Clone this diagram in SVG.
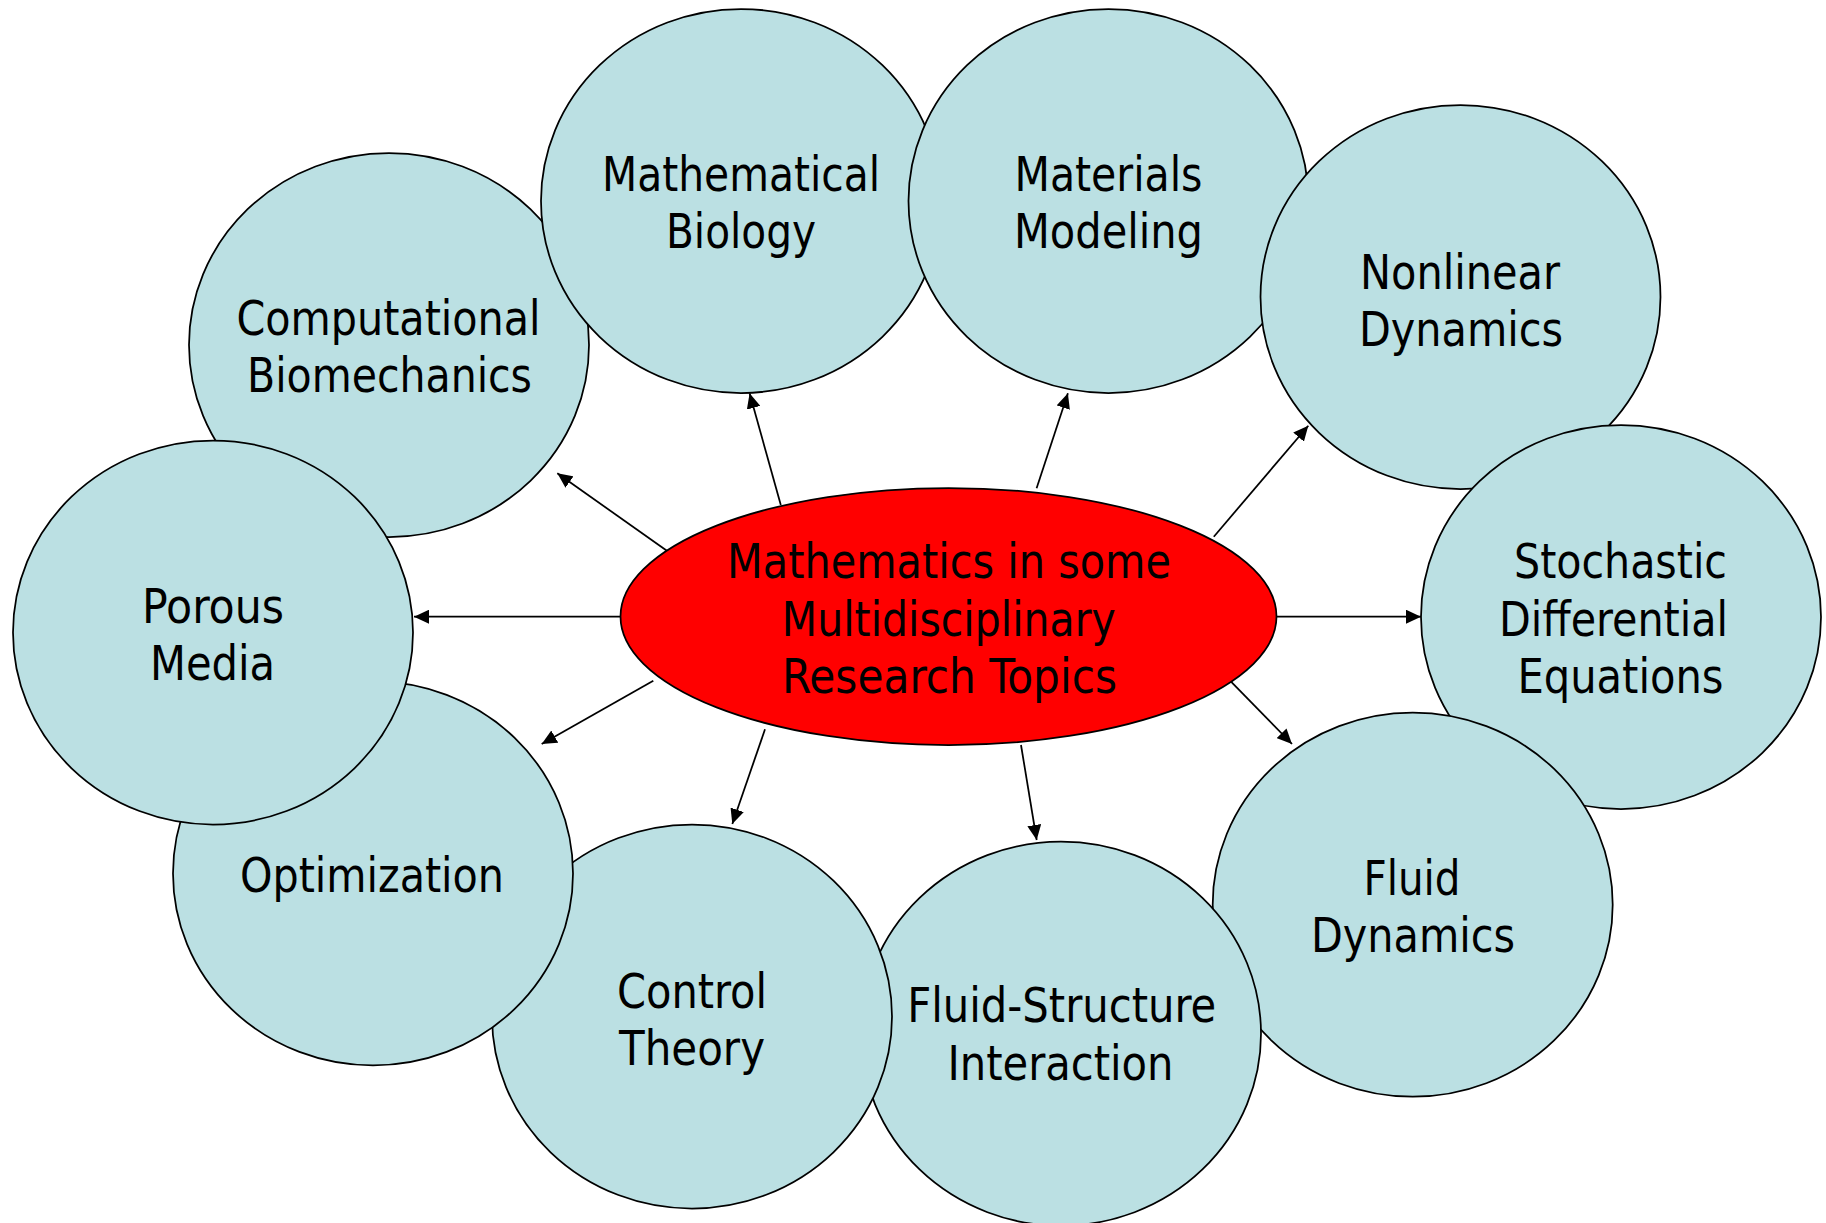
<svg xmlns="http://www.w3.org/2000/svg" width="1826" height="1223" viewBox="0 0 1826 1223">
  <style>
    .topic ellipse { fill: #BBE0E3; stroke: #000; stroke-width: 1.75; }
    .hub ellipse { fill: #FF0000; stroke: #000; stroke-width: 1.75; }
    text { font-family: 'DejaVu Sans Condensed', 'DejaVu Sans', sans-serif; font-stretch: condensed; font-size: 48px; fill: #000; text-anchor: middle; }
    .links line { stroke: #000; stroke-width: 1.75; fill: none; marker-end: url(#arrow); }
  </style>
  <defs>
    <marker id="arrow" markerUnits="userSpaceOnUse" markerWidth="16" markerHeight="14" refX="15" refY="7" orient="auto" viewBox="0 0 16 14">
      <path d="M0,0 L15,7 L0,14 z" fill="#000"/>
    </marker>
  </defs>

  <rect width="1826" height="1223" fill="#FFFFFF"/>

  <!-- topic circles, back to front -->
  <g id="computational-biomechanics" class="topic">
    <ellipse cx="389" cy="345" rx="200" ry="192"/>
    <text x="388.5" y="335" textLength="304" lengthAdjust="spacingAndGlyphs">Computational</text>
    <text x="389.5" y="392" textLength="285" lengthAdjust="spacingAndGlyphs">Biomechanics</text>
  </g>
  <g id="mathematical-biology" class="topic">
    <ellipse cx="741" cy="201" rx="200" ry="192"/>
    <text x="741" y="190.5" textLength="278" lengthAdjust="spacingAndGlyphs">Mathematical</text>
    <text x="741" y="247.5" textLength="150" lengthAdjust="spacingAndGlyphs">Biology</text>
  </g>
  <g id="materials-modeling" class="topic">
    <ellipse cx="1108.5" cy="201" rx="200" ry="192"/>
    <text x="1108.5" y="190.5" textLength="188" lengthAdjust="spacingAndGlyphs">Materials</text>
    <text x="1108.5" y="247.5" textLength="189" lengthAdjust="spacingAndGlyphs">Modeling</text>
  </g>
  <g id="nonlinear-dynamics" class="topic">
    <ellipse cx="1460.5" cy="297" rx="200" ry="192"/>
    <text x="1460" y="288.5" textLength="200" lengthAdjust="spacingAndGlyphs">Nonlinear</text>
    <text x="1461" y="345.5" textLength="204" lengthAdjust="spacingAndGlyphs">Dynamics</text>
  </g>
  <g id="stochastic-differential-equations" class="topic">
    <ellipse cx="1621" cy="617" rx="200" ry="192"/>
    <text x="1620.5" y="577.5" textLength="213" lengthAdjust="spacingAndGlyphs">Stochastic</text>
    <text x="1613.5" y="635.5" textLength="229" lengthAdjust="spacingAndGlyphs">Differential</text>
    <text x="1620.5" y="692.5" textLength="206" lengthAdjust="spacingAndGlyphs">Equations</text>
  </g>
  <g id="fluid-dynamics" class="topic">
    <ellipse cx="1412.7" cy="904.7" rx="200" ry="192"/>
    <text x="1412" y="894.5" textLength="97" lengthAdjust="spacingAndGlyphs">Fluid</text>
    <text x="1413" y="951.5" textLength="204" lengthAdjust="spacingAndGlyphs">Dynamics</text>
  </g>
  <g id="fluid-structure-interaction" class="topic">
    <ellipse cx="1061" cy="1033.7" rx="200" ry="192"/>
    <text x="1061.7" y="1021.7" textLength="309" lengthAdjust="spacingAndGlyphs">Fluid-Structure</text>
    <text x="1060.5" y="1080" textLength="226" lengthAdjust="spacingAndGlyphs">Interaction</text>
  </g>
  <g id="control-theory" class="topic">
    <ellipse cx="692" cy="1016.5" rx="200" ry="192"/>
    <text x="692" y="1007.5" textLength="150" lengthAdjust="spacingAndGlyphs">Control</text>
    <text x="692" y="1065" textLength="146" lengthAdjust="spacingAndGlyphs">Theory</text>
  </g>
  <g id="optimization" class="topic">
    <ellipse cx="373" cy="873.4" rx="200" ry="192"/>
    <text x="372" y="892" textLength="264" lengthAdjust="spacingAndGlyphs">Optimization</text>
  </g>
  <g id="porous-media" class="topic">
    <ellipse cx="213" cy="632.5" rx="200" ry="192"/>
    <text x="213" y="622.7" textLength="142" lengthAdjust="spacingAndGlyphs">Porous</text>
    <text x="212.5" y="680" textLength="125" lengthAdjust="spacingAndGlyphs">Media</text>
  </g>

  <!-- arrows from the hub out to each topic -->
  <g id="connectors" class="links">
    <line x1="780.8" y1="505" x2="749.6" y2="393.3"/>
    <line x1="1036.6" y1="488.3" x2="1067.9" y2="393.3"/>
    <line x1="1213.8" y1="536.7" x2="1308.3" y2="425.7"/>
    <line x1="1276.5" y1="616.7" x2="1421" y2="616.7"/>
    <line x1="1231" y1="681.7" x2="1292" y2="744"/>
    <line x1="1021" y1="745" x2="1036.7" y2="840"/>
    <line x1="765" y1="729.3" x2="732.3" y2="824"/>
    <line x1="653.3" y1="680.7" x2="541.7" y2="744"/>
    <line x1="620.5" y1="616.7" x2="414" y2="616.7"/>
    <line x1="668.3" y1="551.7" x2="557.3" y2="473.3"/>
  </g>

  <!-- central hub -->
  <g id="hub" class="hub">
    <ellipse cx="948.5" cy="616.5" rx="328" ry="128.5"/>
    <text x="949" y="578.3" textLength="444" lengthAdjust="spacingAndGlyphs">Mathematics in some</text>
    <text x="948.8" y="636" textLength="334" lengthAdjust="spacingAndGlyphs">Multidisciplinary</text>
    <text x="949.5" y="693.3" textLength="335" lengthAdjust="spacingAndGlyphs">Research Topics</text>
  </g>
</svg>
